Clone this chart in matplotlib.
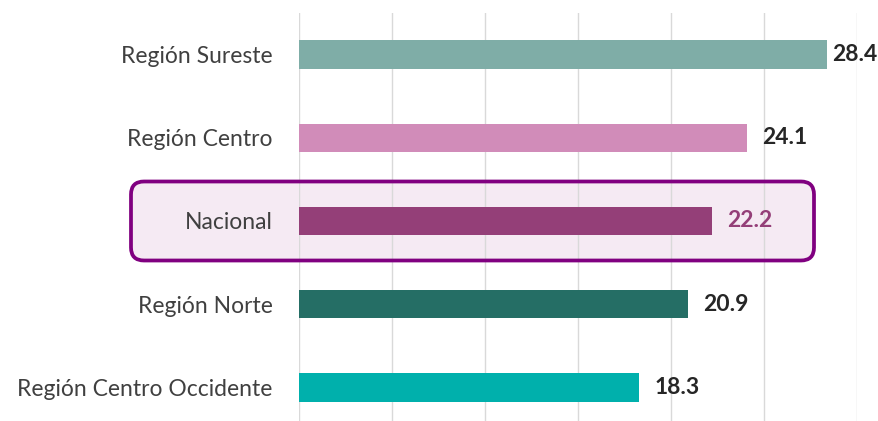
import matplotlib
matplotlib.use("Agg")
import matplotlib.pyplot as plt
from matplotlib.patches import FancyBboxPatch
from matplotlib.transforms import IdentityTransform

plt.rcParams['font.family'] = ['Lato', 'DejaVu Sans']

categories = ["Región Sureste", "Región Centro", "Nacional", "Región Norte", "Región Centro Occidente"]
values = [28.4, 24.1, 22.2, 20.9, 18.3]
colors = ["#7fada7", "#d18cb9", "#943f78", "#256e65", "#00b0ac"]
highlight = "Nacional"

fig = plt.figure(figsize=(8.79, 4.21), dpi=100)
ax = fig.add_axes([299 / 879, -8 / 421, (857 - 299) / 879, 416 / 421])
ax.patch.set_visible(False)

y = list(range(len(categories)))
ax.barh(y, values, height=0.34, color=colors, zorder=3)
ax.set_xlim(0, 30)
ax.set_ylim(len(categories) - 0.5, -0.5)
ax.set_xticks(range(0, 31, 5))
ax.xaxis.grid(True, color="#d9d9d9", linewidth=1, zorder=0)
ax.tick_params(axis="x", length=0, labelbottom=False)
ax.tick_params(axis="y", length=0, pad=19)
ax.set_yticks(y)
ax.set_yticklabels(categories, fontsize=16.5, color="#404040")
for s in ax.spines.values():
    s.set_visible(False)

fig.canvas.draw()
renderer = fig.canvas.get_renderer()

# value labels, nudged inward if they run past the figure edge
for i, v in enumerate(values):
    col = "#943f78" if categories[i] == highlight else "#262626"
    px, py = ax.transData.transform((v, i))
    t = fig.text(px + 15, py, f"{v:.1f}", transform=IdentityTransform(),
                 ha="left", va="center", fontsize=16.5, fontweight="bold", color=col)
    bb = t.get_window_extent(renderer)
    over = bb.x1 - (fig.bbox.width - 2)
    if over > 0:
        t.set_x(max(px + 3, px + 15 - over))

# rounded highlight box around the national row
hi = categories.index(highlight)
_, cy = ax.transData.transform((0, hi))
x0, x1 = 131, 814
h = 79
fill = FancyBboxPatch((x0, cy - h / 2), x1 - x0, h, boxstyle="round,pad=0,rounding_size=13",
                      transform=IdentityTransform(), facecolor="#f5eaf3", edgecolor="none", zorder=-1)
edge = FancyBboxPatch((x0, cy - h / 2), x1 - x0, h, boxstyle="round,pad=0,rounding_size=13",
                      transform=IdentityTransform(), facecolor="none", edgecolor="#800080",
                      linewidth=2.7, zorder=5)
fig.patches.extend([fill, edge])

fig.savefig("out.png", dpi=100)
